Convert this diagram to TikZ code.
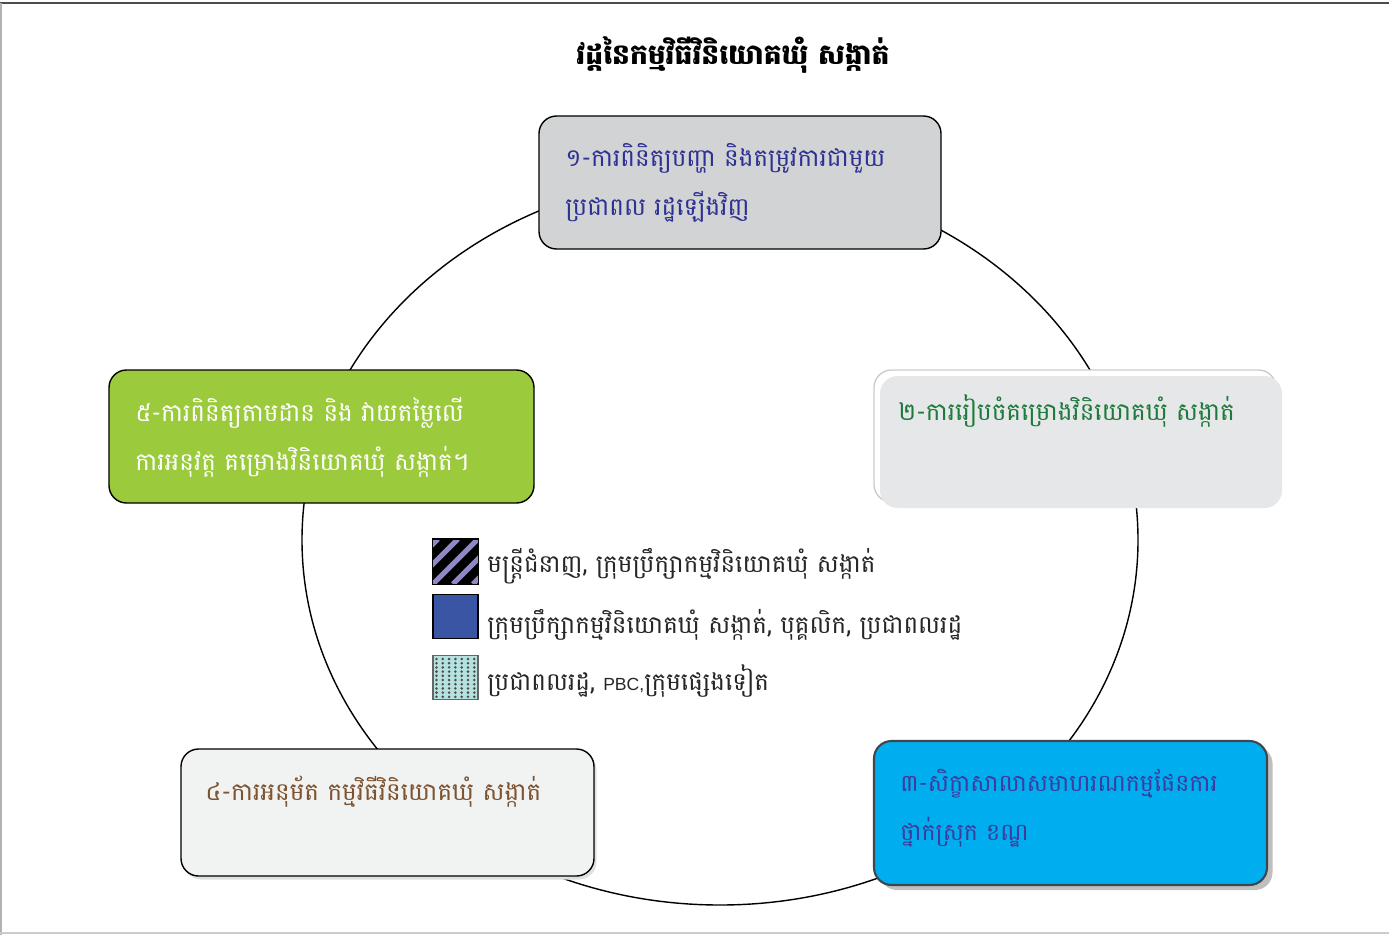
\documentclass[tikz,border=0pt]{standalone}
\usepackage{fontspec}
\usepackage{tikz}
\newfontfamily\khmer[Script=Khmer]{Battambang}
\newfontfamily\latinsans{Liberation Sans}

\definecolor{stepone}{HTML}{D1D3D4}
\definecolor{steptwo}{HTML}{E6E7E8}
\definecolor{stepthree}{HTML}{00AEEF}
\definecolor{stepfour}{HTML}{F1F2F2}
\definecolor{stepfive}{HTML}{9BCB3C}
\definecolor{inkblue}{HTML}{2E3192}
\definecolor{inkgreen}{HTML}{1E7A3C}
\definecolor{inkviolet}{HTML}{3D3B9C}
\definecolor{inkbrown}{HTML}{7D5330}
\definecolor{stripe}{HTML}{8E88C8}
\definecolor{keyblue}{HTML}{3B55A5}
\definecolor{keyaqua}{HTML}{B5E1DE}

\begin{document}
\begin{tikzpicture}[x=0.2mm,y=-0.2mm,
  font=\khmer\fontsize{14}{28}\selectfont,
  stagebox/.style={draw=black,line width=0.8pt,rounded corners=10pt,inner sep=0pt},
  stagetext/.style={anchor=west,align=left,inner sep=0pt},
  keybox/.style={draw=black,line width=0.6pt,minimum width=9mm,minimum height=8.8mm,inner sep=0pt},
  keytext/.style={anchor=west,inner sep=0pt,text=black!85}]
  \useasboundingbox (0,0) rectangle (1389,935);
  \draw[black!70,line width=1pt] (0,3) -- (1389,3);
  \draw[black!30,line width=0.8pt] (1,3) -- (1,935);
  \draw[black!20,line width=0.8pt] (0,933) -- (1389,933);

  \node[font=\khmer\bfseries\fontsize{16}{22}\selectfont] (title) at (733,55) {វដ្តនៃកម្មវិធីវិនិយោគឃុំ សង្កាត់};

  \draw[line width=0.8pt] (720,540) ellipse [x radius=418, y radius=365];

  % stage 1
  \node[stagebox,fill=stepone,minimum width=80.4mm,minimum height=26.6mm] (s1) at (740,182.5) {};
  \node[stagetext,text=inkblue] (t1) at (565,183) {១-ការពិនិត្យបញ្ហា និងតម្រូវការជាមួយ\\ប្រជាពល រដ្ឋឡើងវិញ};

  % stage 2
  \node[stagebox,draw=black!20,fill=white,minimum width=80.4mm,minimum height=26.4mm] (s2b) at (1075,436) {};
  \node[stagebox,draw=none,fill=steptwo,minimum width=80.4mm,minimum height=26.4mm] (s2) at (1081,442) {};
  \node[stagetext,text=inkgreen] (t2) at (898,411) {២-ការរៀបចំគម្រោងវិនិយោគឃុំ សង្កាត់};

  % stage 3
  \node[stagebox,draw=none,fill=black!25,minimum width=78.6mm,minimum height=28.8mm] (s3s) at (1076,818) {};
  \node[stagebox,draw=black!80!cyan,line width=1.2pt,fill=stepthree,minimum width=78.6mm,minimum height=28.8mm] (s3) at (1070.5,813) {};
  \node[stagetext,text=inkviolet,font=\khmer\fontsize{13.5}{28}\selectfont] (t3) at (900,808) {៣-សិក្ខាសាលាសមាហរណកម្មផែនការ\\ថ្នាក់ស្រុក ខណ្ឌ};

  % stage 4
  \node[stagebox,draw=none,fill=black!12,minimum width=82.6mm,minimum height=25.4mm] (s4s) at (390,816) {};
  \node[stagebox,fill=stepfour,minimum width=82.6mm,minimum height=25.4mm] (s4) at (387.5,812.5) {};
  \node[stagetext,text=inkbrown] (t4) at (205,792) {៤-ការអនុម័ត កម្មវិធីវិនិយោគឃុំ សង្កាត់};

  % stage 5
  \node[stagebox,fill=stepfive,minimum width=85mm,minimum height=26.6mm] (s5) at (321.5,436.5) {};
  \node[stagetext,text=white] (t5) at (135,437) {៥-ការពិនិត្យតាមដាន  និង វាយតម្លៃលើ\\ការអនុវត្ត គម្រោងវិនិយោគឃុំ សង្កាត់។};

  % legend
  \node[keybox,fill=black] (k1) at (455.5,561.5) {};
  \begin{scope}
    \clip (433,539) rectangle (478,584);
    \foreach \k in {-40,-20,...,40}
      \draw[stripe,line width=3pt] (433+\k,584) -- (478+\k,539);
  \end{scope}
  \draw[line width=0.6pt] (k1.north west) rectangle (k1.south east);
  \node[keytext] (l1) at (487,566) {មន្ត្រីជំនាញ, ក្រុមប្រឹក្សាកម្មវិនិយោគឃុំ សង្កាត់};

  \node[keybox,fill=keyblue] (k2) at (455.5,616.5) {};
  \node[keytext] (l2) at (487,625) {ក្រុមប្រឹក្សាកម្មវិនិយោគឃុំ សង្កាត់, បុគ្គលិក,  ប្រជាពលរដ្ឋ};

  \node[keybox,draw=black!60,fill=keyaqua] (k3) at (455.5,677.5) {};
  \foreach \i in {0,...,6}
    \foreach \j in {0,...,9}
      \fill[black!70] (436.5+6.3*\i,659+4.2*\j) circle [radius=1.4];
  \node[keytext] (l3) at (487,681) {ប្រជាពលរដ្ឋ, {\latinsans\fontsize{10}{12}\selectfont PBC,}ក្រុមផ្សេងទៀត};
\end{tikzpicture}
\end{document}
